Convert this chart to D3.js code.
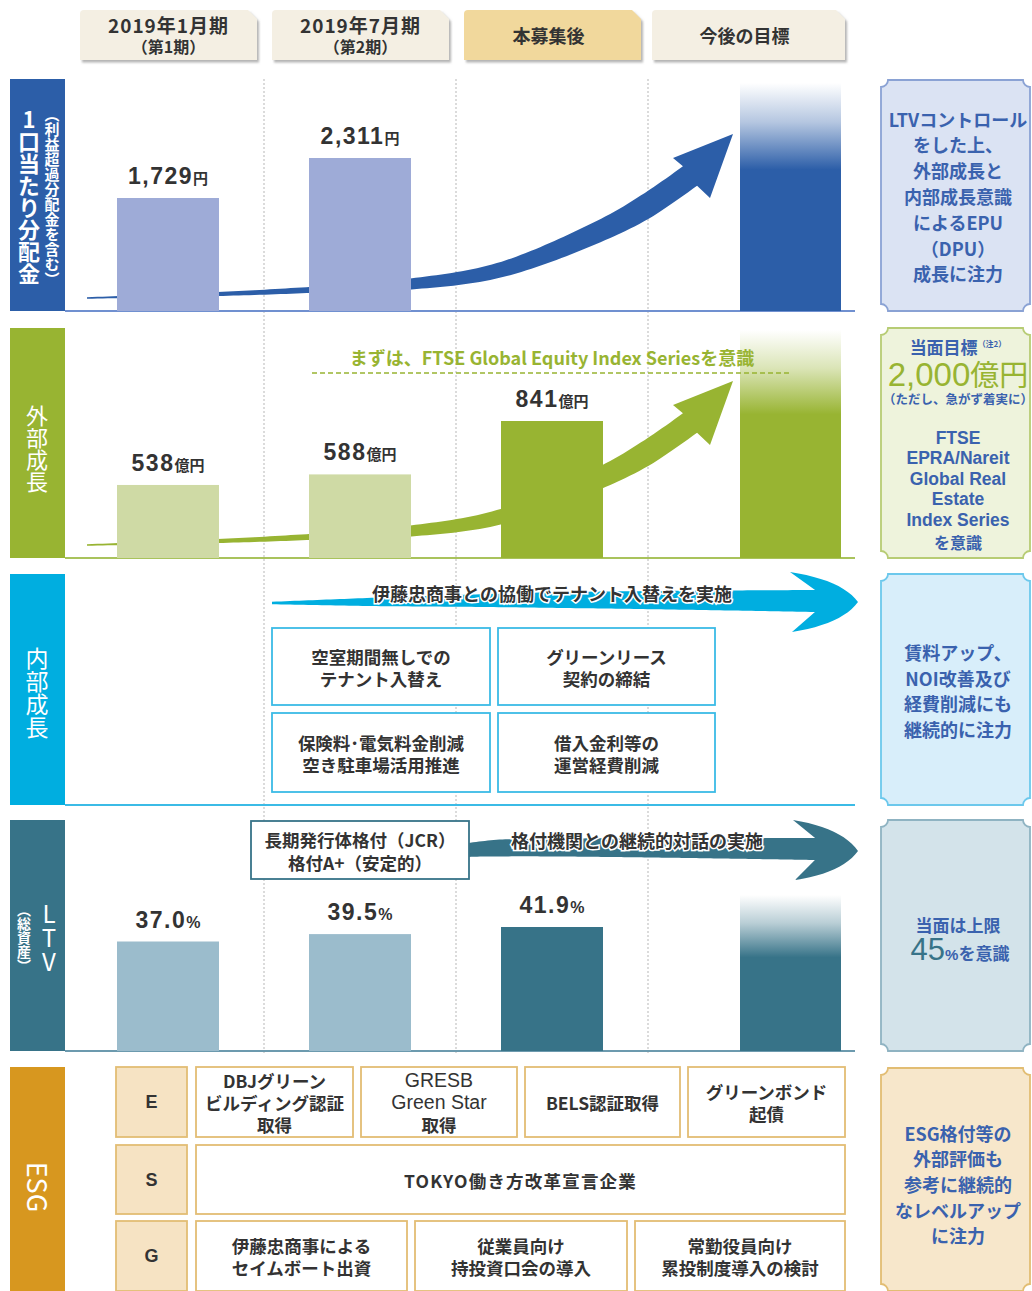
<!DOCTYPE html>
<html><head><meta charset="utf-8">
<script src="https://cdn.jsdelivr.net/npm/d3@7"></script>
<style>
body{margin:0;background:#fff;}
svg text{font-family:"Noto Sans CJK JP","Noto Sans",sans-serif;}
</style></head><body>
<svg id="c" width="1032" height="1291"></svg>
<script>
// ---------------- DATA ----------------
const headerTabs = ["2019年1月期", "2019年7月期", "本募集後", "今後の目標"];
const headerSubs = ["（第1期）", "（第2期）", "", ""];
const periods = ["2019年1月期", "2019年7月期", "本募集後"];
const dpuValues = [1729, 2311, null];
const dpuUnit = "円";
const assetValues = [538, 588, 841];
const assetUnit = "億円";
const ltvValues = [37.0, 39.5, 41.9];
const ltvUnit = "%";
const panelLabels = ["1口当たり分配金", "外部成長", "内部成長", "LTV", "ESG"];
const panelSubLabels = ["（利益超過分配金を含む）", "", "", "（総資産）", ""];
const ftseNote = "まずは、FTSE Global Equity Index Seriesを意識";
const internalArrowText = "伊藤忠商事との協働でテナント入替えを実施";
const internalItems = ["空室期間無しでの\nテナント入替え", "グリーンリース\n契約の締結", "保険料･電気料金削減\n空き駐車場活用推進", "借入金利等の\n運営経費削減"];
const ratingBox = ["長期発行体格付（JCR）", "格付A+（安定的）"];
const ratingArrowText = "格付機関との継続的対話の実施";
const esgLetters = ["E", "S", "G"];
const esgE = ["DBJグリーン\nビルディング認証\n取得", "GRESB\nGreen Star\n取得", "BELS認証取得", "グリーンボンド\n起債"];
const esgS = ["TOKYO働き方改革宣言企業"];
const esgG = ["伊藤忠商事による\nセイムボート出資", "従業員向け\n持投資口会の導入", "常勤役員向け\n累投制度導入の検討"];
const rightBox1 = ["LTVコントロール", "をした上、", "外部成長と", "内部成長意識", "によるEPU", "（DPU）", "成長に注力"];
const rightBox2Head = "当面目標";
const rightBox2Note = "（注2）";
const rightBox2Target = ["2,000", "億円"];
const rightBox2Sub = "（ただし、急がず着実に）";
const rightBox2Lines = ["FTSE", "EPRA/Nareit", "Global Real", "Estate", "Index Series", "を意識"];
const rightBox3 = ["賃料アップ、", "NOI改善及び", "経費削減にも", "継続的に注力"];
const rightBox4Head = "当面は上限";
const rightBox4Target = ["45", "%", "を意識"];
const rightBox5 = ["ESG格付等の", "外部評価も", "参考に継続的", "なレベルアップ", "に注力"];

// ---------------- LAYOUT ----------------
const C = {
  blue: "#2c5ea8", blueLight: "#9eabd7", blueLine: "#7090d0",
  green: "#98b432", greenLight: "#cfdaa5", greenLine: "#a9c35c",
  cyan: "#00aee0", cyanLine: "#3bbbe6",
  teal: "#377388", tealLight: "#9bbccc", tealLine: "#6c9aae",
  gold: "#d7971f", goldLine: "#e3bd74", goldFill: "#f6e3c3",
  text: "#333", boxText: "#3a62ae"
};
const P = [
  {top: 79, bottom: 311}, {top: 328, bottom: 558}, {top: 574, bottom: 805},
  {top: 820, bottom: 1051}, {top: 1067, bottom: 1291}
];
const labelX0 = 10, labelX1 = 65, lineX1 = 855;
const rightX0 = 881, rightX1 = 1030, rightCx = 958;
const targetBar = [740, 841];
const targetTab = [652, 845];
const latin = "'Liberation Sans',Arial,sans-serif";

const svg = d3.select("#c");
const defs = svg.append("defs");
const f = defs.append("filter").attr("id", "sh").attr("x", "-10%").attr("y", "-10%").attr("width", "130%").attr("height", "140%");
f.append("feDropShadow").attr("dx", 2).attr("dy", 2.5).attr("stdDeviation", 1.2).attr("flood-color", "#777").attr("flood-opacity", 0.55);

function grad(id, color, solidAt) {
  const g = defs.append("linearGradient").attr("id", id).attr("x1", 0).attr("y1", 0).attr("x2", 0).attr("y2", 1);
  g.append("stop").attr("offset", 0).attr("stop-color", color).attr("stop-opacity", 0);
  g.append("stop").attr("offset", solidAt * 0.45).attr("stop-color", color).attr("stop-opacity", 0.35);
  g.append("stop").attr("offset", solidAt).attr("stop-color", color).attr("stop-opacity", 1);
  g.append("stop").attr("offset", 1).attr("stop-color", color).attr("stop-opacity", 1);
}
grad("gBlue", C.blue, 0.38);
grad("gGreen", C.green, 0.37);
grad("gTeal", C.teal, 0.4);

const x = d3.scaleBand().domain(periods).range([72, 648]).paddingInner(0.46875).paddingOuter(0.234375);
const bw = x.bandwidth();
const gapHalf = (x.step() - bw) / 2;

// multi-line text as ONE text element with tspans
function mtext(g, cx, cy, lines, lh, size, opts = {}) {
  const el = g.append("text").attr("text-anchor", "middle").attr("dominant-baseline", "central")
    .attr("font-size", size).attr("font-weight", opts.weight || 700).attr("fill", opts.fill || C.text);
  if (opts.ls) el.attr("letter-spacing", opts.ls);
  if (opts.family) el.style("font-family", opts.family);
  lines.forEach((t, i) => {
    const ts = el.append("tspan").attr("x", cx).attr("y", cy + (i - (lines.length - 1) / 2) * lh).text(t);
    if (opts.lineStyle) opts.lineStyle(ts, i);
  });
  return el;
}

// ---------------- HEADER TABS ----------------
const tabs = headerTabs.map((t, i) => {
  if (i < 3) { const c = x(periods[i]) + bw / 2; return {x0: c - 88, x1: c + 89, t, s: headerSubs[i], i}; }
  return {x0: targetTab[0], x1: targetTab[1], t, s: headerSubs[i], i};
});
const tabG = svg.append("g");
tabs.forEach(d => {
  const y0 = 10, y1 = 60, c = 9;
  const p = `M${d.x0 + 4},${y0} L${d.x1 - c},${y0} L${d.x1},${y0 + c} L${d.x1},${y1} L${d.x0},${y1} L${d.x0},${y0 + 4} Q${d.x0},${y0} ${d.x0 + 4},${y0} Z`;
  tabG.append("path").attr("d", p).attr("fill", d.i === 2 ? "#f1d89c" : "#f4efe3").attr("filter", "url(#sh)");
  const cx = (d.x0 + d.x1) / 2;
  if (d.s) {
    mtext(tabG, cx, 35, [d.t, d.s], 22, 19, {ls: 1, lineStyle: (ts, i) => { if (i === 1) ts.attr("font-size", 16).attr("letter-spacing", 0); }});
  } else {
    mtext(tabG, cx - 4, 35, [d.t], 22, 18);
  }
});

// ---------------- DIVIDERS ----------------
svg.append("g").selectAll("line").data(periods).join("line")
  .attr("x1", d => x(d) + bw + gapHalf).attr("x2", d => x(d) + bw + gapHalf)
  .attr("y1", P[0].top).attr("y2", P[3].bottom + 2)
  .attr("stroke", "#c4c4c4").attr("stroke-width", 1.2).attr("stroke-dasharray", "2,2");

// ---------------- LEFT LABELS ----------------
const labelColors = [C.blue, C.green, C.cyan, C.teal, C.gold];
P.forEach((p, i) => {
  svg.append("rect").attr("x", labelX0).attr("y", p.top).attr("width", labelX1 - labelX0).attr("height", p.bottom - p.top).attr("fill", labelColors[i]);
});
function vtext(cx, cy, t, size, weight, orient) {
  svg.append("text").attr("x", cx).attr("y", cy).attr("text-anchor", "middle")
    .attr("font-size", size).attr("font-weight", weight).attr("fill", "#fff")
    .style("writing-mode", "vertical-rl").style("text-orientation", orient).text(t);
}
vtext(29, 197, panelLabels[0], 22, 700, "upright");
vtext(52, 197, panelSubLabels[0], 15, 700, "mixed");
vtext(37, 449, panelLabels[1], 22, 400, "mixed");
vtext(37, 693, panelLabels[2], 23, 400, "mixed");
vtext(49, 938, panelLabels[3], 24, 400, "upright");
vtext(24, 938, panelSubLabels[3], 14, 700, "mixed");
vtext(38, 1187, panelLabels[4], 27, 400, "mixed");

// baselines
const lineColors = [C.blueLine, C.greenLine, C.cyanLine, C.tealLine];
[0, 1, 2, 3].forEach(i => {
  svg.append("line").attr("x1", labelX1).attr("x2", lineX1).attr("y1", P[i].bottom).attr("y2", P[i].bottom)
    .attr("stroke", lineColors[i]).attr("stroke-width", 2);
});

// ---------------- ARROW HELPERS ----------------
function taper(g, pts, head, color) {
  const tmp = g.append("path").attr("d", d3.line().curve(d3.curveCatmullRom.alpha(0.5))(pts.map(p => [p[0], p[1]]))).attr("fill", "none");
  const node = tmp.node(), Ln = node.getTotalLength();
  const ws = d3.scaleLinear().domain(pts.map(p => p[0])).range(pts.map(p => p[2])).clamp(true);
  const up = [], dn = [], N = 120;
  for (let i = 0; i <= N; i++) {
    const l = Ln * i / N, p = node.getPointAtLength(l);
    const a = node.getPointAtLength(Math.max(0, l - 0.7)), b = node.getPointAtLength(Math.min(Ln, l + 0.7));
    let dx = b.x - a.x, dy = b.y - a.y; const n = Math.hypot(dx, dy) || 1; dx /= n; dy /= n;
    const w = ws(p.x) / 2;
    up.push([p.x + dy * w, p.y - dx * w]);
    dn.push([p.x - dy * w, p.y + dx * w]);
  }
  tmp.remove();
  g.append("path").attr("d", d3.line()(up.concat(head, dn.reverse())) + "Z").attr("fill", color);
}
function quad(p0, c, p1, n = 12) {
  const o = [];
  for (let i = 1; i <= n; i++) {
    const t = i / n;
    o.push([(1 - t) * (1 - t) * p0[0] + 2 * (1 - t) * t * c[0] + t * t * p1[0], (1 - t) * (1 - t) * p0[1] + 2 * (1 - t) * t * c[1] + t * t * p1[1]]);
  }
  return o;
}
// rising growth arrow shape, offsets above panel baseline
const riseShaft = [[87, 13, 1.5], [219, 17, 4], [309, 21, 6], [411, 27, 11], [500, 41, 15], [600, 80, 21], [645, 104, 24], [690, 135, 24]];
const riseHead = [[673, 153], [733, 177], [710, 113]];
function riseArrow(B, color) {
  const g = svg.append("g");
  taper(g, riseShaft.map(p => [p[0], B - p[1], p[2]]), riseHead.map(p => [p[0], B - p[1]]), color);
}

function bars(vals, y, base, colorFn, unit, numSize) {
  const data = periods.map((p, i) => ({p, v: vals[i], i})).filter(d => d.v != null);
  svg.append("g").selectAll("rect").data(data).join("rect")
    .attr("x", d => x(d.p)).attr("width", bw).attr("y", d => y(d.v)).attr("height", d => base - y(d.v))
    .attr("fill", d => colorFn(d.i));
  const t = svg.append("g").selectAll("text").data(data).join("text")
    .attr("x", d => x(d.p) + bw / 2).attr("y", d => y(d.v) - 14).attr("text-anchor", "middle").attr("fill", C.text);
  t.append("tspan").style("font-family", latin).attr("font-size", numSize).attr("font-weight", 700).attr("letter-spacing", 1.5)
    .text(d => unit === "%" ? d.v.toFixed(1) : d3.format(",")(d.v));
  t.append("tspan").attr("font-size", unit === "%" ? 16 : 15).attr("font-weight", 700)
    .style("font-family", unit === "%" ? latin : null).text(unit);
}

// ---------------- PANEL 1: DPU ----------------
const yDpu = d3.scaleLinear().domain([85, 2311]).range([P[0].bottom, 158]);
riseArrow(P[0].bottom, C.blue);
bars(dpuValues, yDpu, P[0].bottom, () => C.blueLight, dpuUnit, 23);
svg.append("rect").attr("x", targetBar[0]).attr("width", targetBar[1] - targetBar[0]).attr("y", 83).attr("height", P[0].bottom - 83).attr("fill", "url(#gBlue)");

// ---------------- PANEL 2: ASSETS ----------------
const yAsset = d3.scaleLinear().domain([192, 841]).range([P[1].bottom, 421]);
riseArrow(P[1].bottom, C.green);
bars(assetValues, yAsset, P[1].bottom, i => i === 2 ? C.green : C.greenLight, assetUnit, 23);
svg.append("rect").attr("x", targetBar[0]).attr("width", targetBar[1] - targetBar[0]).attr("y", 330).attr("height", P[1].bottom - 330).attr("fill", "url(#gGreen)");
mtext(svg, 552, 357, [ftseNote], 20, 18, {fill: C.green});
svg.append("line").attr("x1", 312).attr("x2", 790).attr("y1", 373).attr("y2", 373)
  .attr("stroke", C.green).attr("stroke-width", 1.5).attr("stroke-dasharray", "5,3");

// ---------------- PANEL 3: INTERNAL ----------------
{
  const g = svg.append("g");
  const shaft = [[272, 603, 2.5], [367, 602, 8], [560, 600, 16], [815, 601, 22]];
  const head = [[790, 572]].concat(quad([790, 572], [842, 580], [858, 602]), quad([858, 602], [842, 624], [792, 632]));
  taper(g, shaft, head, C.cyan);
  mtext(g, 552, 593, [internalArrowText], 20, 18).attr("stroke", "#fff").attr("stroke-width", 3).attr("paint-order", "stroke");
  const boxes = [[272, 628, 218, 77], [498, 628, 217, 77], [272, 713, 218, 79], [498, 713, 217, 79]];
  internalItems.forEach((t, i) => {
    const b = boxes[i];
    g.append("rect").attr("x", b[0]).attr("y", b[1]).attr("width", b[2]).attr("height", b[3])
      .attr("fill", "#fff").attr("stroke", C.cyanLine).attr("stroke-width", 1.8);
    mtext(g, b[0] + b[2] / 2, b[1] + b[3] / 2, t.split("\n"), 22, 17.5);
  });
}

// ---------------- PANEL 4: LTV ----------------
const yLtv = d3.scaleLinear().domain([0, 41.9]).range([P[3].bottom, 927]);
bars(ltvValues, yLtv, P[3].bottom, i => i === 2 ? C.teal : C.tealLight, ltvUnit, 23);
svg.append("rect").attr("x", targetBar[0]).attr("width", targetBar[1] - targetBar[0]).attr("y", 895).attr("height", P[3].bottom - 895).attr("fill", "url(#gTeal)");
{
  const g = svg.append("g");
  const shaft = [[468, 850, 14], [500, 848, 17], [815, 849, 22]];
  const head = [[793, 820]].concat(quad([793, 820], [842, 828], [858, 851]), quad([858, 851], [842, 873], [795, 880]));
  taper(g, shaft, head, C.teal);
  mtext(g, 637, 840, [ratingArrowText], 20, 18).attr("stroke", "#fff").attr("stroke-width", 3).attr("paint-order", "stroke");
  g.append("rect").attr("x", 251).attr("y", 821).attr("width", 218).attr("height", 58)
    .attr("fill", "#fff").attr("stroke", C.teal).attr("stroke-width", 1.8);
  mtext(g, 360, 850, ratingBox, 23, 17.5);
}

// ---------------- PANEL 5: ESG ----------------
{
  const g = svg.append("g");
  const rows = [[1067, 70], [1145, 69], [1221, 70]];
  const items = [esgE, esgS, esgG];
  const spans = [
    [[196, 353], [361, 517], [525, 680], [688, 845]],
    [[196, 845]],
    [[196, 407], [415, 627], [635, 845]]
  ];
  esgLetters.forEach((L, r) => {
    const [ry, rh] = rows[r];
    g.append("rect").attr("x", 116).attr("y", ry).attr("width", 71).attr("height", rh)
      .attr("fill", C.goldFill).attr("stroke", C.goldLine).attr("stroke-width", 1.8);
    mtext(g, 151.5, ry + rh / 2, [L], 20, 18, {family: latin});
    items[r].forEach((t, k) => {
      const s = spans[r][k];
      g.append("rect").attr("x", s[0]).attr("y", ry).attr("width", s[1] - s[0]).attr("height", rh)
        .attr("fill", "#fff").attr("stroke", C.goldLine).attr("stroke-width", 1.8);
      const lines = t.split("\n");
      if (t.startsWith("GRESB")) {
        mtext(g, (s[0] + s[1]) / 2, ry + rh / 2, lines, 22, 17.5, {lineStyle: (ts, i) => {
          if (i < 2) ts.style("font-family", latin).attr("font-size", 19.5).attr("font-weight", 400);
        }});
      } else {
        mtext(g, (s[0] + s[1]) / 2, ry + rh / 2, lines, 22, 17.5, {ls: r === 1 ? 1.2 : 0});
      }
    });
  });
}

// ---------------- RIGHT BOXES ----------------
function notchBox(y0, y1, fill, stroke) {
  const r = 7, x0 = rightX0, x1 = rightX1;
  const p = `M${x0 + r},${y0} L${x1 - r},${y0} A${r},${r} 0 0 0 ${x1},${y0 + r} L${x1},${y1 - r} A${r},${r} 0 0 0 ${x1 - r},${y1} L${x0 + r},${y1} A${r},${r} 0 0 0 ${x0},${y1 - r} L${x0},${y0 + r} A${r},${r} 0 0 0 ${x0 + r},${y0} Z`;
  svg.append("path").attr("d", p).attr("fill", fill).attr("stroke", stroke).attr("stroke-width", 1.8);
}
notchBox(80, 311, "#dbe3f3", "#8aa2d4");
mtext(svg, rightCx, 196, rightBox1, 25.8, 18, {fill: C.boxText});

notchBox(328, 558, "#eef3dc", "#b7cc74");
{
  const t = svg.append("text").attr("x", 958).attr("y", 354).attr("text-anchor", "middle").attr("fill", C.boxText).attr("font-weight", 700);
  t.append("tspan").attr("font-size", 17).text(rightBox2Head);
  t.append("tspan").attr("font-size", 8).attr("dy", -7).text(rightBox2Note);
}
{
  const t = svg.append("text").attr("x", 958).attr("y", 386).attr("text-anchor", "middle").attr("fill", C.green);
  t.append("tspan").style("font-family", latin).attr("font-size", 33).text(rightBox2Target[0]);
  t.append("tspan").attr("font-size", 29).text(rightBox2Target[1]);
}
mtext(svg, rightCx, 398, [rightBox2Sub], 20, 12.5, {fill: C.boxText});
mtext(svg, rightCx, 478.6, rightBox2Lines.slice(0, 5), 20.5, 17.5, {fill: C.boxText, family: latin});
mtext(svg, rightCx, 542, rightBox2Lines.slice(5), 20.5, 16, {fill: C.boxText});

notchBox(574, 805, "#d8eefa", "#6cc8ec");
mtext(svg, rightCx, 690.5, rightBox3, 25.7, 18, {fill: C.boxText});

notchBox(820, 1051, "#d3e3ea", "#8fb3c2");
mtext(svg, rightCx, 924, [rightBox4Head], 20, 17, {fill: C.boxText});
{
  const t = svg.append("text").attr("x", 960).attr("y", 960).attr("text-anchor", "middle");
  t.append("tspan").style("font-family", latin).attr("font-size", 31).attr("fill", C.teal).text(rightBox4Target[0]);
  t.append("tspan").style("font-family", latin).attr("font-size", 15).attr("font-weight", 700).attr("fill", C.boxText).text(rightBox4Target[1]);
  t.append("tspan").attr("font-size", 17).attr("font-weight", 700).attr("fill", C.boxText).text(rightBox4Target[2]);
}

notchBox(1068, 1291, "#f7e7cb", "#e2bd73");
mtext(svg, rightCx, 1184, rightBox5, 25.7, 18, {fill: C.boxText});
</script>
</body></html>
